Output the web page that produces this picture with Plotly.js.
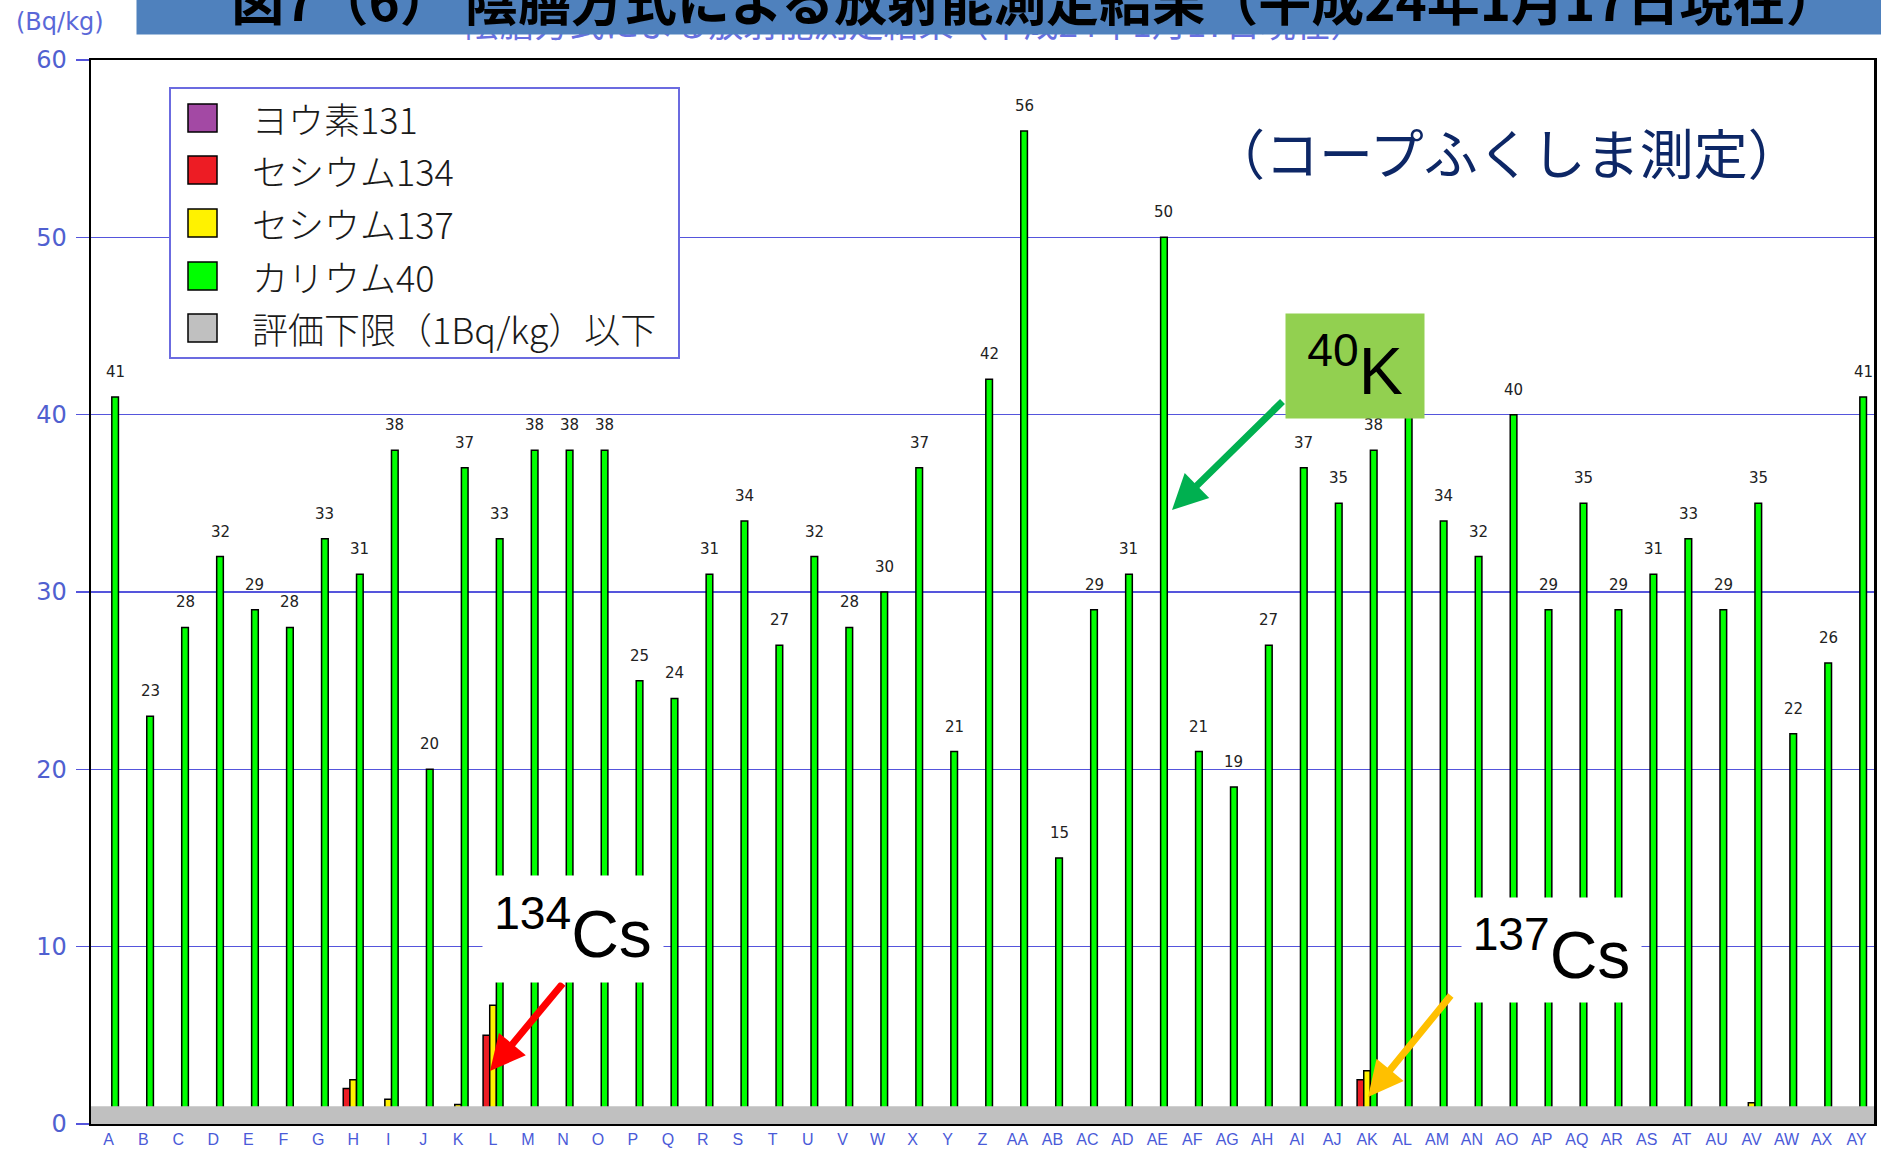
<!DOCTYPE html>
<html><head><meta charset="utf-8">
<script src="https://cdn.plot.ly/plotly-3.0.1.min.js"></script>
<style>html,body{margin:0;padding:0;background:#fff;overflow:hidden}#chart{width:1881px;height:1149px}</style>
</head><body><div id="chart"></div>
<script>
const categories = ['A','B','C','D','E','F','G','H','I','J','K','L','M','N','O','P','Q','R','S','T','U','V','W','X','Y','Z',
  'AA','AB','AC','AD','AE','AF','AG','AH','AI','AJ','AK','AL','AM','AN','AO','AP','AQ','AR','AS','AT','AU','AV','AW','AX','AY'];
const iodine131 = [0,0,0,0,0,0,0,0,0,0,0,0,0,0,0,0,0,0,0,0,0,0,0,0,0,0,
  0,0,0,0,0,0,0,0,0,0,0,0,0,0,0,0,0,0,0,0,0,0,0,0,0];
const cesium134 = [0,0,0,0,0,0,0,2.0,0,0,0,5.0,0,0,0,0,0,0,0,0,0,0,0,0,0,0,
  0,0,0,0,0,0,0,0,0,0,2.5,0,0,0,0,0,0,0,0,0,0,0,0,0,0];
const cesium137 = [0,0,0,0,0,0,0,2.5,1.4,0,1.1,6.7,0,0,0,0,0,0,0,0,0,0,0,0,0,0,
  0,0,0,0,0,0,0,0,0,0,3.0,0,0,0,0,0,0,0,0,0,0,1.2,0,0,0];
const potassium40 = [41,23,28,32,29,28,33,31,38,20,37,33,38,38,38,25,24,31,34,27,32,28,30,37,21,42,
  56,15,29,31,50,21,19,27,37,35,38,40,34,32,40,29,35,29,31,33,29,35,22,26,41];
const belowLimit = categories.map(() => null);
const lowerLimit = 1;
const yTicks = [0,10,20,30,40,50,60];
const seriesNames = ['ヨウ素131','セシウム134','セシウム137','カリウム40','評価下限（1Bq/kg）以下'];
const seriesColors = ['#a349a4','#ed1c24','#fff200','#00ff00','#c0c0c0'];

const W = 1881, H = 1149;
const ML = 91, MR = 7, MT = 60, MB = 25;
const PW = W - ML - MR, PH = H - MT - MB;
const fx = px => (px - ML) / PW;
const fy = py => 1 - (py - MT) / PH;
const BARGAP = 0.05;
const catW = PW / categories.length;
const barW = catW * (1 - BARGAP) / 5;

const seriesData = [iodine131, cesium134, cesium137, potassium40, belowLimit];
const traces = seriesData.map((vals, i) => ({
  type: 'bar', x: categories, y: vals, name: seriesNames[i],
  marker: {color: seriesColors[i], line: {color: '#000', width: 1.5}},
  hoverinfo: 'skip'
}));

const annotations = [];
// faint sub title partly hidden under the banner
annotations.push({xref: 'paper', yref: 'paper', x: fx(915), y: fy(40), text: '陰膳方式による放射能測定結果（平成24年1月17日現在）', showarrow: false,
  xanchor: 'center', yanchor: 'middle', width: 980, height: 14, valign: 'bottom', borderpad: 0,
  font: {family: 'Noto Sans CJK JP', size: 35, color: '#6a70e0'}});
// value labels for potassium-40
potassium40.forEach((v, i) => {
  annotations.push({x: categories[i], y: v, xref: 'x', yref: 'y', text: String(v), showarrow: false,
    xshift: barW, yshift: 25, yanchor: 'middle', font: {family: 'DejaVu Sans', size: 15, color: '#222'}});
});
// y unit
annotations.push({xref: 'paper', yref: 'paper', x: fx(60), y: fy(22), text: '(Bq/kg)', showarrow: false,
  xanchor: 'center', yanchor: 'middle', font: {family: 'DejaVu Sans', size: 24, color: '#5a68d8'}});
// banner (box from x=137 to beyond the right page edge)
annotations.push({xref: 'paper', yref: 'paper', x: fx(1035), y: fy(-2), text: '<b>図7（6） 陰膳方式による放射能測定結果（平成24年1月17日現在）</b>', showarrow: false,
  xanchor: 'center', yanchor: 'middle', width: 1796, height: 72, bgcolor: '#4f81bd', borderpad: 0,
  font: {family: 'Noto Sans CJK JP', size: 53, color: '#000'}});
// legend texts
const rowY = [118, 170, 223, 276, 328];
seriesNames.forEach((n, i) => {
  annotations.push({xref: 'paper', yref: 'paper', x: fx(250), y: fy(rowY[i]), text: n, showarrow: false,
    xanchor: 'left', yanchor: 'middle', font: {family: 'Noto Sans CJK JP', size: 36, weight: 300, color: '#1a1a1a'}});
});
// source note
annotations.push({xref: 'paper', yref: 'paper', x: fx(1506), y: fy(152), text: '（コープふくしま測定）', showarrow: false,
  xanchor: 'center', yanchor: 'middle', font: {family: 'Noto Sans CJK JP', size: 54, color: '#0d2766'}});
// arrows
function arrow(tx, ty, hx, hy, color) {
  annotations.push({xref: 'paper', yref: 'paper', x: fx(hx), y: fy(hy), ax: tx - hx, ay: ty - hy, text: '',
    showarrow: true, arrowhead: 2, arrowsize: 1, arrowwidth: 7, arrowcolor: color, standoff: 0, startstandoff: 0});
}
arrow(1284, 400, 1172, 510, '#00b050');
arrow(564, 982, 490, 1071, '#ff0000');
arrow(1452, 994, 1368, 1097, '#ffc000');
// isotope boxes
function box(cx, cy, w, h, dx, txt, bg) {
  annotations.push({xref: 'paper', yref: 'paper', x: fx(cx), y: fy(cy), text: txt, showarrow: false,
    xanchor: 'center', yanchor: 'middle', width: w, height: h, bgcolor: bg, borderpad: 0, xshift: dx,
    font: {family: 'Liberation Sans', size: 66, color: '#000'}});
}
box(1355, 366, 138, 104, 0, '<sup>40</sup>K', '#92d050');
box(580, 929, 180, 106, -7, '<sup>134</sup>Cs', '#ffffff');
box(1559, 950, 179, 104, -8, '<sup>137</sup>Cs', '#ffffff');

const shapes = [];
shapes.push({type: 'rect', xref: 'paper', yref: 'y', x0: 0, x1: 1, y0: 0, y1: lowerLimit,
  fillcolor: '#c0c0c0', line: {width: 0}, layer: 'above'});
shapes.push({type: 'rect', xref: 'paper', yref: 'paper', x0: fx(170), x1: fx(679), y0: fy(88), y1: fy(358),
  fillcolor: '#fff', line: {color: '#6b6be0', width: 2}, layer: 'above'});
seriesColors.forEach((c, i) => {
  shapes.push({type: 'rect', xref: 'paper', yref: 'paper', x0: fx(188), x1: fx(217), y0: fy(rowY[i] - 14), y1: fy(rowY[i] + 14),
    fillcolor: c, line: {color: '#000', width: 1.5}, layer: 'above'});
});

const layout = {
  width: W, height: H, margin: {l: ML, r: MR, t: MT, b: MB},
  paper_bgcolor: '#fff', plot_bgcolor: '#fff',
  barmode: 'group', bargap: BARGAP, bargroupgap: 0, showlegend: false,
  xaxis: {type: 'category', range: [-0.5, categories.length - 0.5], showgrid: false, zeroline: false,
    ticks: 'inside', ticklen: 4, tickcolor: '#000', tickson: 'boundaries', tickangle: 0,
    showline: true, linecolor: '#000', linewidth: 2, mirror: true, ticklabelstandoff: 0,
    tickfont: {family: 'Liberation Sans', size: 16, color: '#4a5ad8'}, fixedrange: true},
  yaxis: {range: [0, 60], tickvals: yTicks, ticktext: yTicks.map(String), showgrid: true, gridcolor: '#5555dc', gridwidth: 1.5,
    zeroline: false, ticks: 'outside', ticklen: 13, tickcolor: '#5555dc', tickwidth: 1.5,
    showline: true, linecolor: '#000', linewidth: 2.5, mirror: true, ticklabelstandoff: 4,
    tickfont: {family: 'DejaVu Sans', size: 24, color: '#5060d0'}, fixedrange: true},
  annotations: annotations, shapes: shapes
};
Plotly.newPlot('chart', traces, layout, {displayModeBar: false, staticPlot: true});
</script></body></html>
